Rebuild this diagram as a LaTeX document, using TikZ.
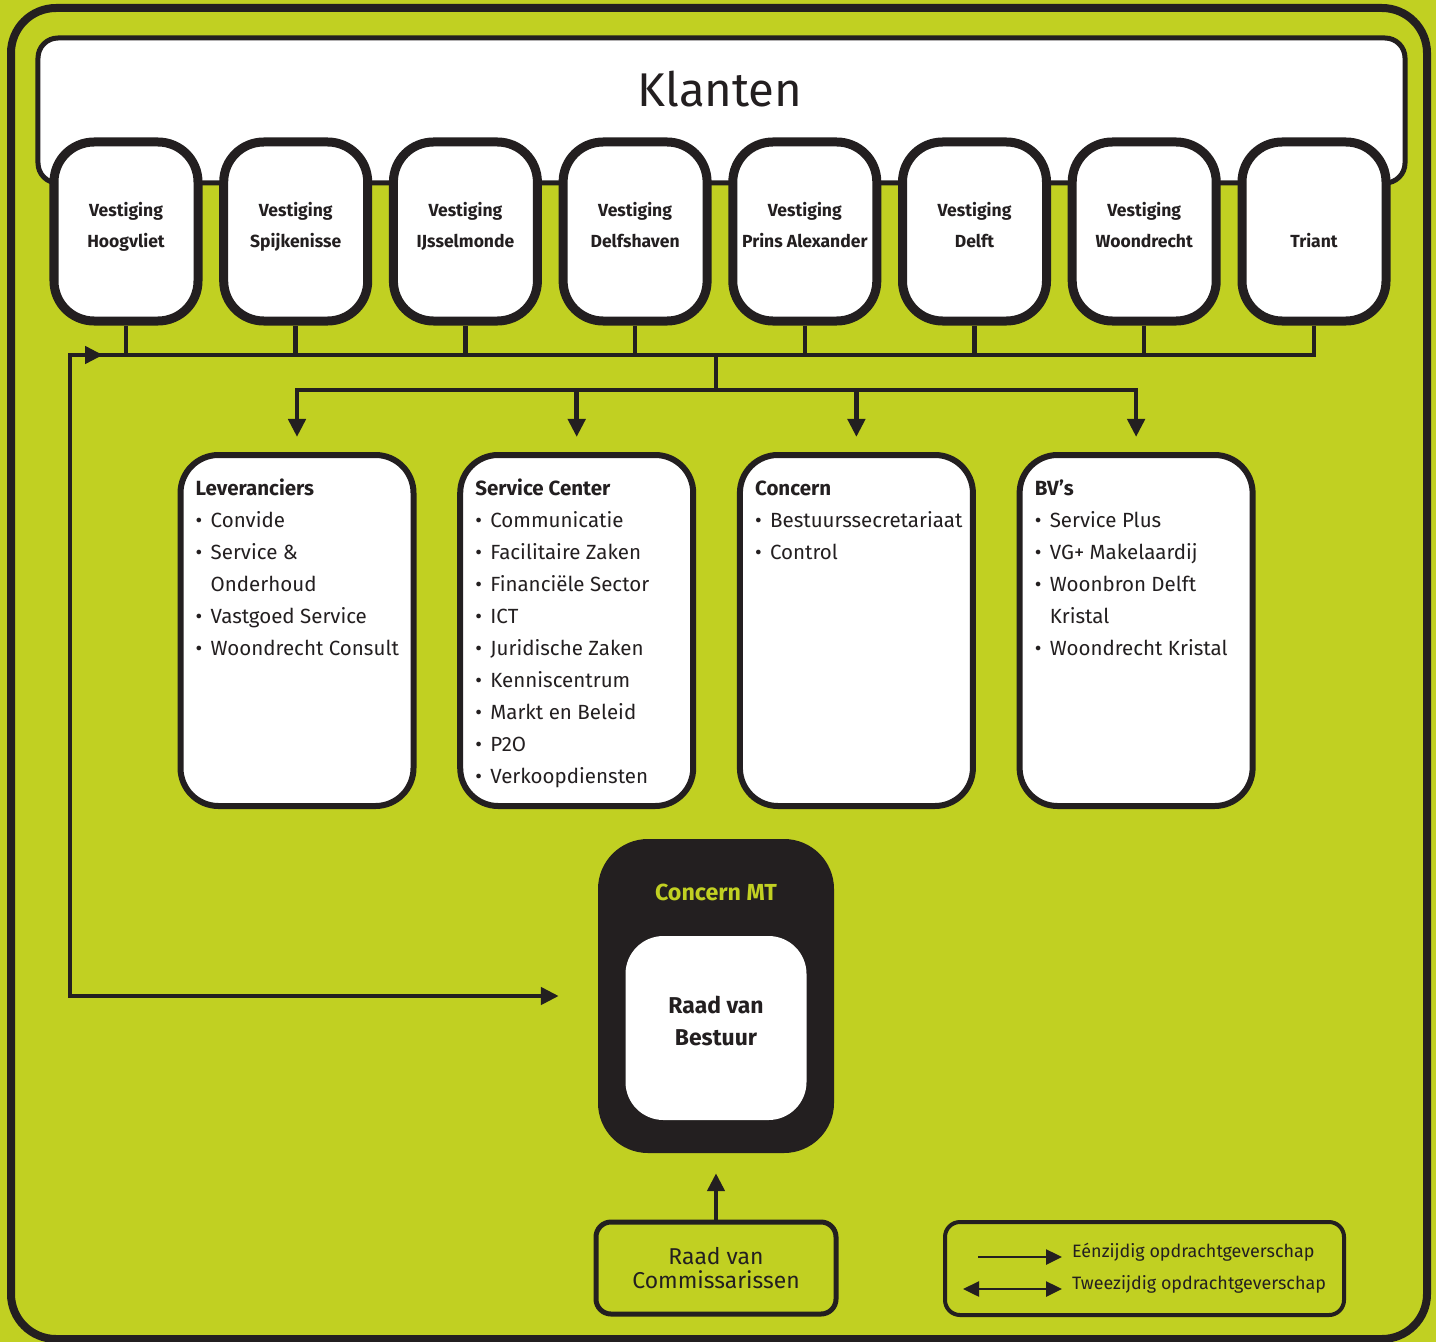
\documentclass[tikz,border=0pt]{standalone}
\usepackage{fontspec}
\setmainfont{Fira Sans}
\usetikzlibrary{positioning,arrows.meta,calc}
\definecolor{woonGroen}{HTML}{C1D022}
\definecolor{woonZwart}{HTML}{231F20}

\newcommand{\bol}[1]{\makebox[15bp][l]{\textbullet}#1}
\newcommand{\vervolg}[1]{\hspace*{15bp}#1}

\begin{document}
\begin{tikzpicture}[x=1bp, y=-1bp, >={Triangle[length=18bp,width=17bp]},
    every node/.style={text=woonZwart},
    leiding/.style={draw=woonZwart, line width=4.5bp},
    kader/.style={draw=woonZwart, line width=5bp, rounded corners=15bp, inner sep=0pt},
    vestiging/.style={draw=woonZwart, fill=white, line width=9bp, rounded corners=40bp,
      minimum width=144bp, minimum height=179bp, inner sep=0pt},
    vtekst/.style={font=\fontsize{17.6}{20}\selectfont\bfseries, anchor=base, inner sep=0pt},
    afdeling/.style={draw=woonZwart, fill=white, line width=6bp, rounded corners=38bp,
      minimum width=233bp, minimum height=351bp, inner sep=0pt},
    regel/.style={font=\fontsize{20.6}{24}\selectfont, anchor=base west, inner sep=0pt},
    kop/.style={regel, font=\fontsize{20.6}{24}\selectfont\bfseries},
  ]
  % achtergrond en buitenrand
  \fill[woonGroen] (0,0) rectangle (1436,1342);
  \useasboundingbox (0,0) rectangle (1436,1342);
  \draw[woonZwart, line width=8bp, rounded corners=45bp] (11,8) rectangle (1427,1339);

  % klanten met vestigingen
  \node[kader, fill=white, rounded corners=20bp, minimum width=1367bp, minimum height=145bp] (klanten) at (721.5,110.5) {};
  \node[font=\fontsize{47.5}{50}\selectfont, anchor=base, inner sep=0pt] (klantentekst) at (720,107) {Klanten};
  \foreach \naam [count=\i from 0] in {Hoogvliet,Spijkenisse,IJsselmonde,Delfshaven,Prins Alexander,Delft,Woondrecht} {
    \pgfmathsetmacro{\xv}{126+169.7*\i}
    \node[vestiging] (v\i) at (\xv,231.5) {};
    \node[vtekst] (vt\i) at (\xv,217) {Vestiging};
    \node[vtekst] (vn\i) at (\xv,248) {\naam};
  }
  \node[vestiging] (v7) at (1314,231.5) {};
  \node[vtekst] (vn7) at (1314,248) {Triant};

  % bus onder de vestigingen
  \coordinate (busL) at (70,355);
  \coordinate (terug) at (103,355);
  \coordinate (splits) at (716,355);
  \coordinate (verdeel) at (716,390);
  \foreach \i in {0,...,6} \draw[leiding] (v\i.south) -- (v\i.south |- busL);
  \draw[leiding] (v7.south) -- (v7.south |- busL) -- (busL);
  \draw[leiding] (splits) -- (verdeel);

  % afdelingen
  \node[afdeling] (lev) at (297,630.5) {};
  \node[afdeling, right=40.7bp of lev] (sc) {};
  \node[afdeling, right=40.7bp of sc] (con) {};
  \node[afdeling, right=40.7bp of con] (bvs) {};

  \draw[leiding, line cap=rect] (lev.north |- verdeel) -- (bvs.north |- verdeel);
  \foreach \a in {lev,sc,con,bvs}
    \draw[leiding, ->, shorten >=15bp] (\a.north |- verdeel) -- (\a.north);

  \node[kop] (lev-0) at ($(lev.north west)+(18,43)$) {Leveranciers};
  \foreach \regel [count=\i] in {\bol{Convide},\bol{Service \&},\vervolg{Onderhoud},\bol{Vastgoed Service},\bol{Woondrecht Consult}}
    \node[regel] (lev-\i) at ($(lev.north west)+(18,43+32*\i)$) {\regel};

  \node[kop] (sc-0) at ($(sc.north west)+(18,43)$) {Service Center};
  \foreach \regel [count=\i] in {\bol{Communicatie},\bol{Facilitaire Zaken},\bol{Financiële Sector},\bol{ICT},\bol{Juridische Zaken},\bol{Kenniscentrum},\bol{Markt en Beleid},\bol{P2O},\bol{Verkoopdiensten}}
    \node[regel] (sc-\i) at ($(sc.north west)+(18,43+32*\i)$) {\regel};

  \node[kop] (con-0) at ($(con.north west)+(18,43)$) {Concern};
  \foreach \regel [count=\i] in {\bol{Bestuurssecretariaat},\bol{Control}}
    \node[regel] (con-\i) at ($(con.north west)+(18,43+32*\i)$) {\regel};

  \node[kop] (bvs-0) at ($(bvs.north west)+(18,43)$) {BV’s};
  \foreach \regel [count=\i] in {\bol{Service Plus},\bol{VG+ Makelaardij},\bol{Woonbron Delft},\vervolg{Kristal},\bol{Woondrecht Kristal}}
    \node[regel] (bvs-\i) at ($(bvs.north west)+(18,43+32*\i)$) {\regel};

  % concern MT met raad van bestuur
  \node[fill=woonZwart, rounded corners=50bp, minimum width=236bp, minimum height=314bp, inner sep=0pt] (mt) at (716,996) {};
  \node[font=\fontsize{23.3}{26}\selectfont\bfseries, text=woonGroen, anchor=base, inner sep=0pt] (mttekst) at (716,900) {Concern MT};
  \node[fill=white, rounded corners=38bp, minimum width=181bp, minimum height=184bp, inner sep=0pt] (rvb) at (716,1028) {};
  \node[font=\fontsize{23}{32}\selectfont\bfseries, align=center, inner sep=0pt] (rvbtekst) at ($(rvb.center)+(0,-7)$) {Raad van\\Bestuur};

  \draw[leiding, <->, shorten >=39bp] (terug) -- (busL) |- (mt.west);

  % raad van commissarissen
  \node[kader, minimum width=240bp, minimum height=92bp, align=center, font=\fontsize{23}{25}\selectfont] (rvc) at (716,1268) {Raad van\\Commissarissen};
  \draw[leiding, ->, shorten >=20bp] (rvc.north) -- (mt.south);

  % legenda
  \node[kader, line width=4bp, minimum width=399bp, minimum height=93bp] (legenda) at (1144.5,1268.5) {};
  \node[font=\fontsize{18}{20}\selectfont, anchor=base west, inner sep=0pt] (een) at (1072,1257) {Eénzijdig opdrachtgeverschap};
  \node[font=\fontsize{18}{20}\selectfont, anchor=base west, inner sep=0pt] (twee) at (1072,1289) {Tweezijdig opdrachtgeverschap};
  \draw[woonZwart, line width=2.5bp, -{Triangle[length=16bp,width=15bp]}] ([xshift=-94bp]een.base west) -- ([xshift=-10bp]een.base west);
  \draw[woonZwart, line width=2.5bp, {Triangle[length=16bp,width=15bp]}-{Triangle[length=16bp,width=15bp]}] ([xshift=-109bp]twee.base west) -- ([xshift=-10bp]twee.base west);
\end{tikzpicture}
\end{document}
